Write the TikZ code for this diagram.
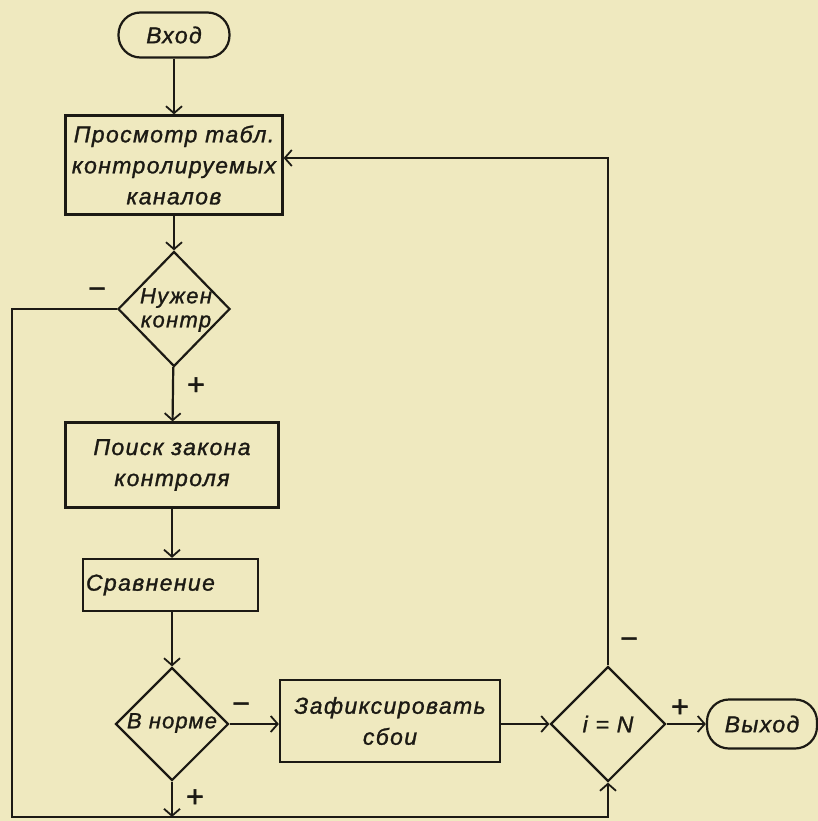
\documentclass[tikz,border=0pt]{standalone}
\usepackage{fontspec}
\setmainfont{Liberation Sans}
\usetikzlibrary{arrows.meta,shapes.geometric}
\definecolor{paper}{HTML}{EFE9BF}
\definecolor{ink}{HTML}{1C1A14}
\begin{document}
\begin{tikzpicture}[x=1pt,y=-1pt,
  every node/.style={font=\fontsize{23}{31}\selectfont\itshape\addfontfeature{LetterSpace=6,FakeBold=1.2}, text=ink},
  line/.style={draw=ink, line width=2.2pt},
  arr/.style={line, -{Straight Barb[length=7pt,width=16pt,line width=1.8pt]}},
  box/.style={draw=ink, line width=2.2pt, rectangle, inner sep=0pt, align=center},
  term/.style={draw=ink, line width=2.2pt, rectangle, rounded corners=22pt, inner sep=0pt},
  dia/.style={draw=ink, line width=2.2pt, diamond, inner sep=0pt},
  sign/.style={font=\fontsize{30}{30}\selectfont\addfontfeature{FakeBold=1.5}, inner sep=0pt}]
\fill[paper] (0,0) rectangle (818,821);
\useasboundingbox (0,0) rectangle (818,821);

\node[term, minimum width=111pt, minimum height=45pt] (in) at (174,35) {Вход};
\node[box, minimum width=217pt, minimum height=99pt] (b1) at (174,165) {Просмотр табл.\\контролируемых\\каналов};
\node[dia, minimum width=112pt, minimum height=115pt] (d1) at (174,309) {};
\node[align=center, font=\fontsize{22}{24}\selectfont\itshape\addfontfeature{LetterSpace=6,FakeBold=1.2}] (t1) at (176,310) {Нужен\\контр};
\node[box, minimum width=213pt, minimum height=85pt] (b2) at (172,465) {Поиск закона\\контроля};
\node[box, minimum width=175pt, minimum height=52pt, text width=169pt, align=left] (b3) at (170.5,585) {Сравнение};
\node[dia, minimum width=113pt, minimum height=113pt] (d2) at (172,724) {};
\node[font=\fontsize{22}{24}\selectfont\itshape\addfontfeature{LetterSpace=5,FakeBold=1.2}] (t2) at (172,723) {В норме};
\node[box, minimum width=220pt, minimum height=82pt] (b4) at (390,721) {Зафиксировать\\сбои};
\node[dia, minimum width=115pt, minimum height=115pt] (d3) at (608,724) {};
\node (t3) at (608,724) {i = N};
\node[term, minimum width=110pt, minimum height=49pt] (out) at (762,724) {Выход};

\coordinate (bl) at (12,817);

\draw[arr] (in) -- (b1);
\draw[arr] (b1) -- (d1);
\draw[arr] (d1) -- (b2);
\draw[arr] (b2.south) -- (b2.south |- b3.north);
\draw[arr] (b2.south |- b3.south) -- (d2.north);
\draw[arr] (d2.east) -- (d2.east -| b4.west);
\draw[arr] (b4.east |- d3.west) -- (d3.west);
\draw[arr] (d3.east) -- (out.west);
\draw[arr] (d3.north) |- ([yshift=7pt]b1.east);
\draw[arr] (d1.west) -| (bl) -| (d3.south);
\draw[arr] (d2.south) -- (d2.south |- bl);

\node[sign] (m1) at (97,293) {−};
\node[sign] (p1) at (196,386) {+};
\node[sign] (m2) at (241,708) {−};
\node[sign] (p2) at (195,798) {+};
\node[sign] (m3) at (629,643) {−};
\node[sign] (p3) at (680,708) {+};
\end{tikzpicture}
\end{document}
